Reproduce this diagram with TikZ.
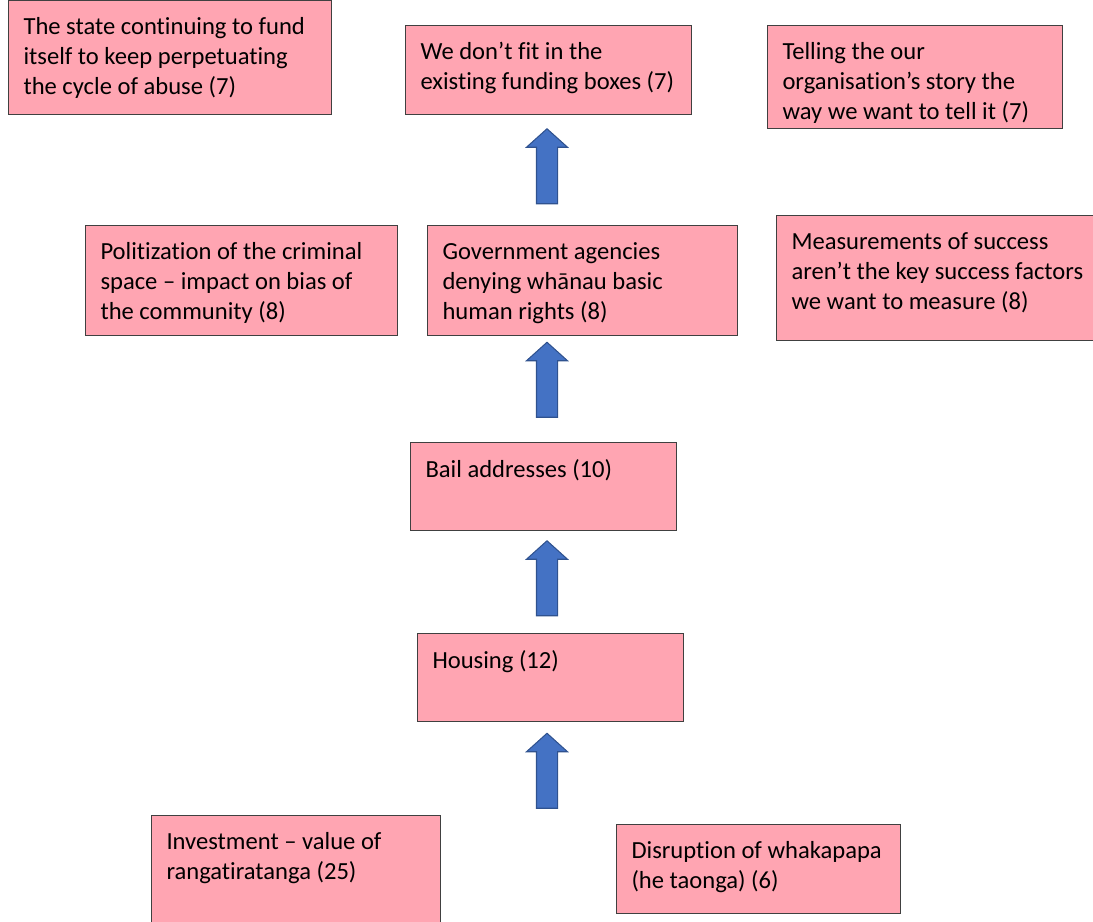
\documentclass[tikz,border=0pt]{standalone}
\usepackage{fontspec}
\setmainfont{Carlito}[Ligatures=NoCommon]
\usetikzlibrary{shapes.arrows}
\definecolor{boxpink}{RGB}{255,165,178}
\definecolor{arrowblue}{RGB}{68,114,196}
\definecolor{arrowedge}{RGB}{47,82,143}
\tikzset{
  pinkbox/.style={draw=black!75, line width=0.6pt, fill=boxpink, anchor=north west,
    inner xsep=0.3cm, inner ysep=0.34cm, font=\fontsize{14pt}{17.07pt}\selectfont},
  uparrow/.style={single arrow, draw=arrowedge, line width=0.6pt, fill=arrowblue,
    inner sep=0.2cm, minimum height=1.5cm, minimum width=0.8cm,
    single arrow head extend=0.2cm, single arrow tip angle=96, shape border rotate=90}
}
\begin{document}
\begin{tikzpicture}[x=0.02cm, y=-0.02cm]
      \useasboundingbox (0,0) rectangle (1093,921);
      \node[pinkbox] (state) at (8,0) {\parbox[c][1.60cm][t]{5.86cm}{\raggedright The state continuing to fund\\ itself to keep perpetuating\\ the cycle of abuse (7)}};
      \node[pinkbox] (funding) at (405,25) {\parbox[c][1.10cm][t]{5.12cm}{\raggedright We don’t fit in the\\ existing funding boxes (7)}};
      \node[pinkbox] (story) at (767,25) {\parbox[c][1.38cm][t]{5.30cm}{\raggedright Telling the our\\ organisation’s story the\\ way we want to tell it (7)}};
      \node[pinkbox] (politics) at (85,225) {\parbox[c][1.52cm][t]{5.64cm}{\raggedright Politization of the criminal\\ space – impact on bias of\\ the community (8)}};
      \node[pinkbox] (agencies) at (427,225) {\parbox[c][1.52cm][t]{5.60cm}{\raggedright Government agencies\\ denying whānau basic\\ human rights (8)}};
      \node[pinkbox] (measures) at (776,215) {\parbox[c][1.82cm][t]{6.00cm}{\raggedright Measurements of success\\ aren’t the key success factors\\ we want to measure (8)}};
      \node[pinkbox] (bail) at (410,442) {\parbox[c][1.08cm][t]{4.72cm}{\raggedright Bail addresses (10)}};
      \node[pinkbox] (housing) at (417,633) {\parbox[c][1.08cm][t]{4.72cm}{\raggedright Housing (12)}};
      \node[pinkbox] (invest) at (151,815) {\parbox[c][1.72cm][t]{5.18cm}{\raggedright Investment – value of\\ rangatiratanga (25)}};
      \node[pinkbox] (whakapapa) at (616,824) {\parbox[c][1.10cm][t]{5.08cm}{\raggedright Disruption of whakapapa\\ (he taonga) (6)}};
      \node[uparrow] (arrA) at (547,171) {};
      \node[uparrow] (arrB) at (547,384.5) {};
      \node[uparrow] (arrC) at (547,583) {};
      \node[uparrow] (arrD) at (547,775.5) {};
\end{tikzpicture}
\end{document}
